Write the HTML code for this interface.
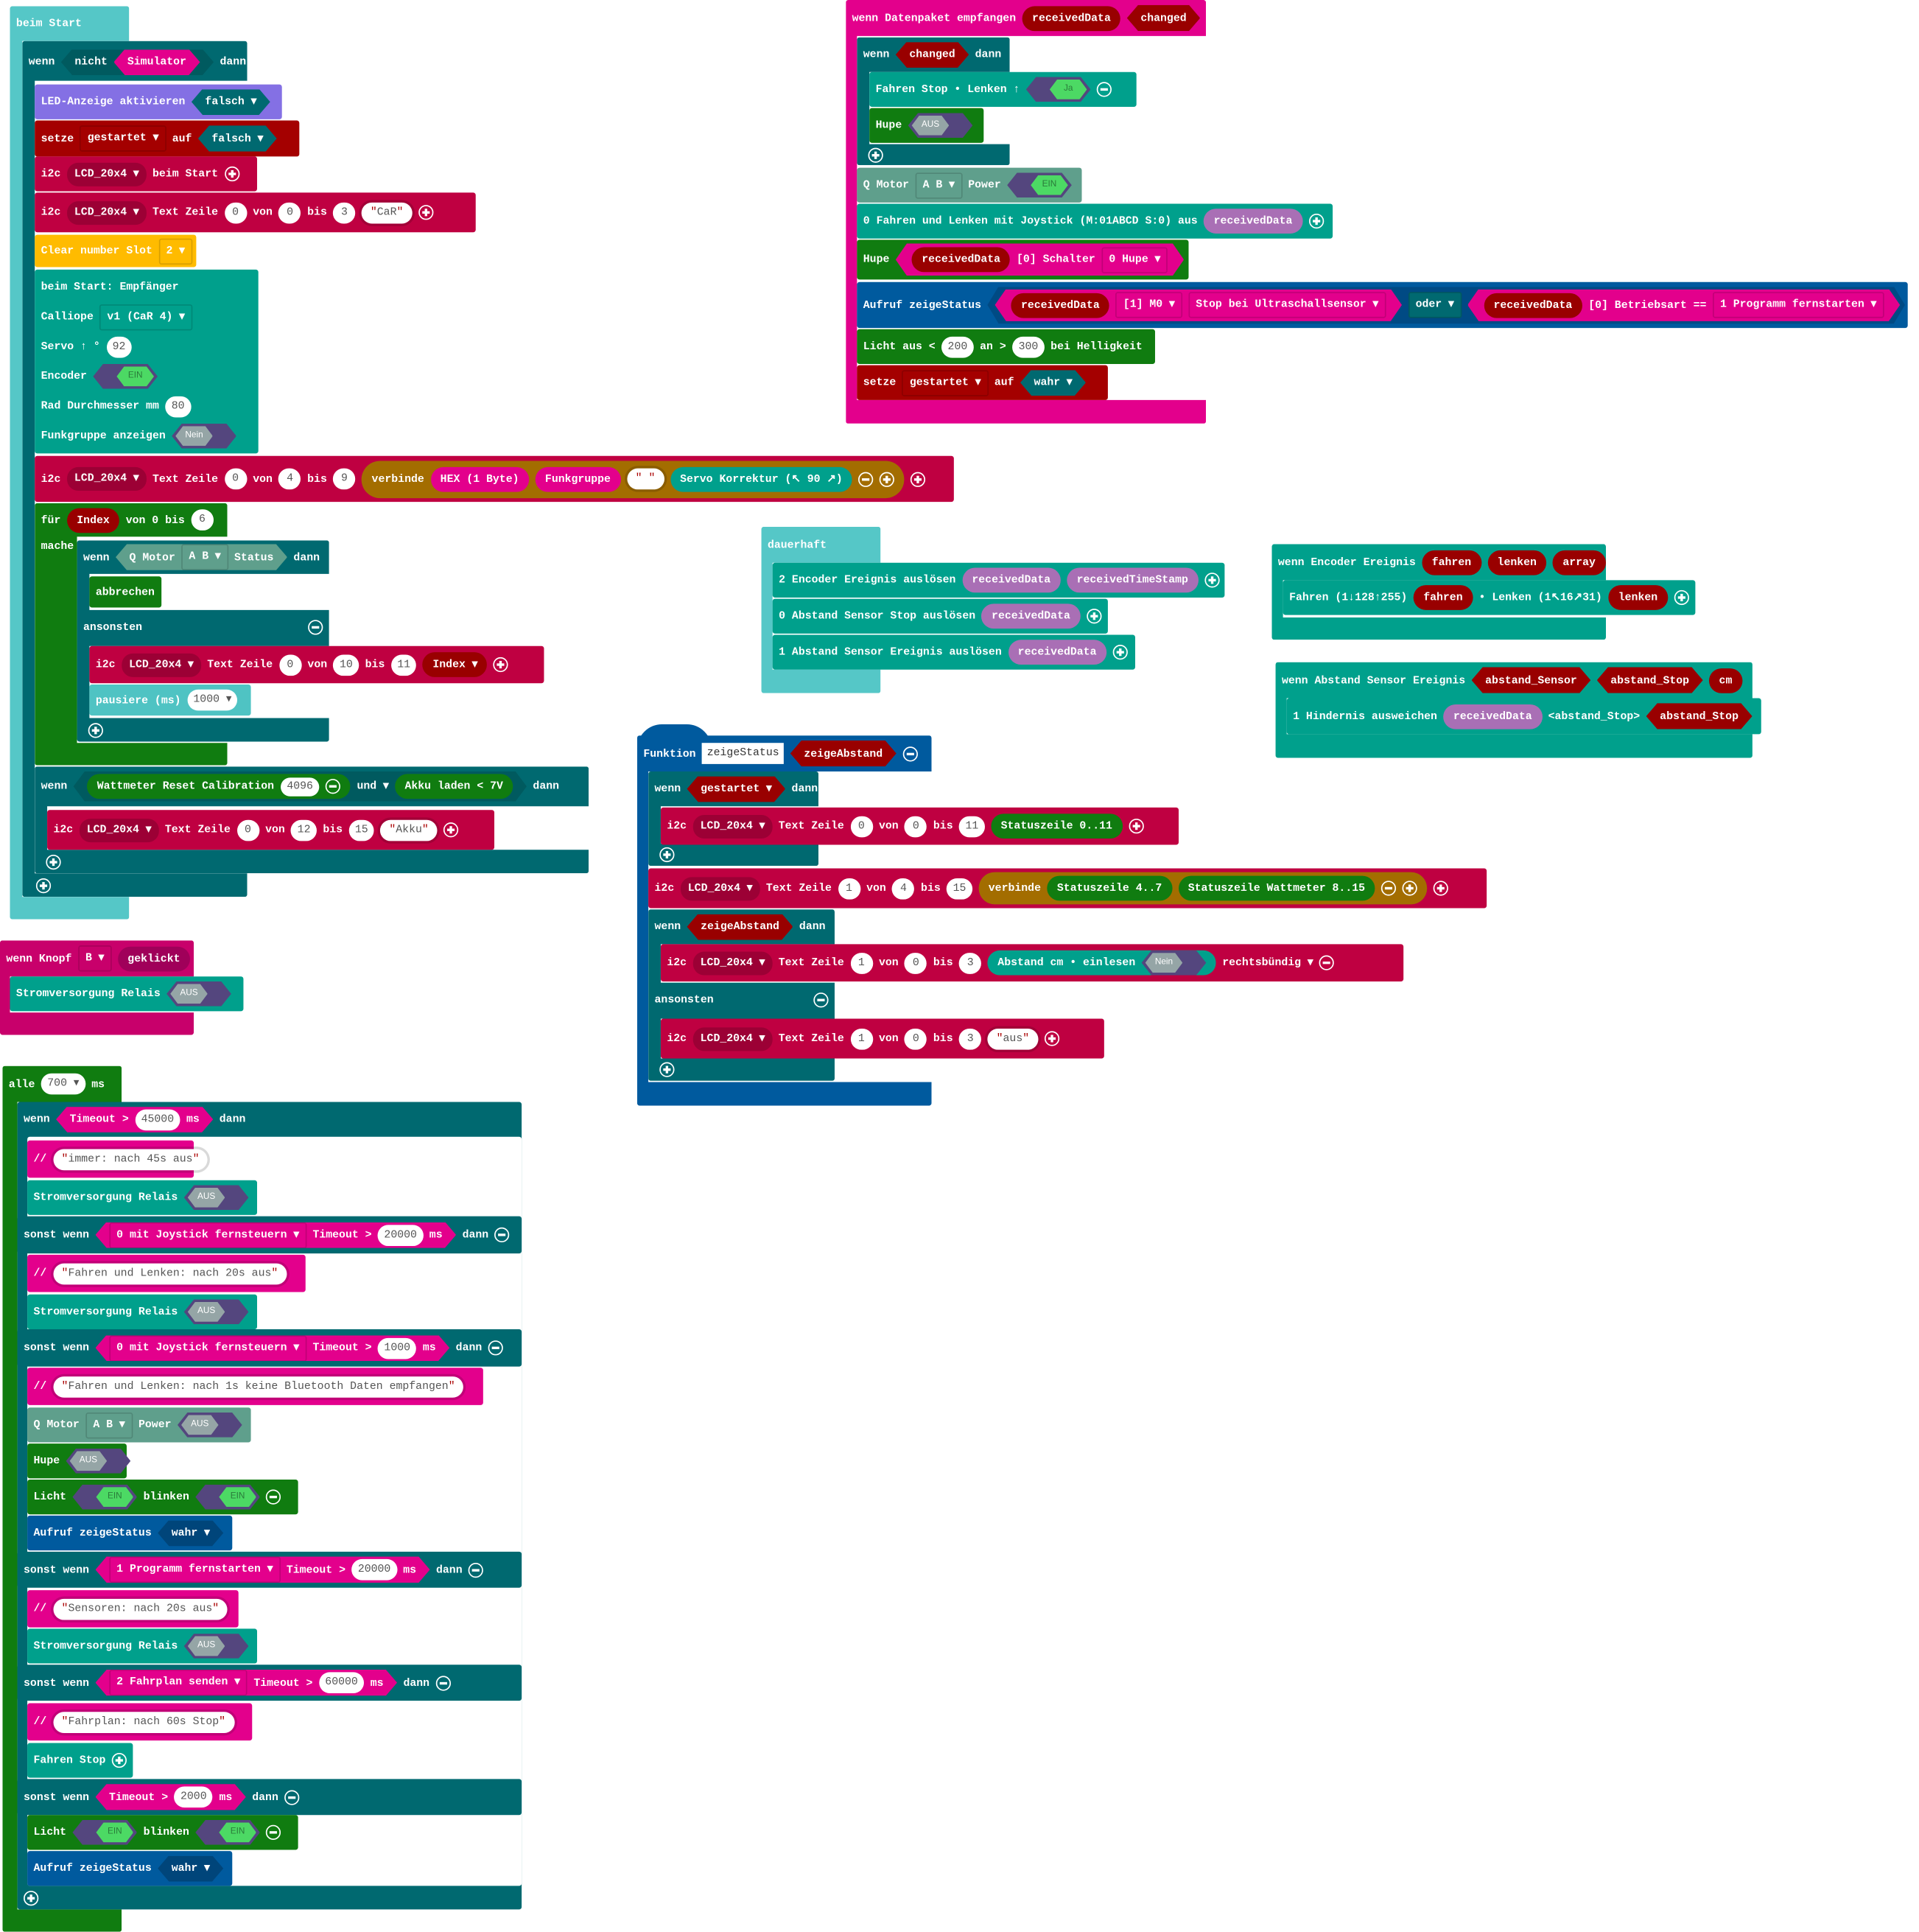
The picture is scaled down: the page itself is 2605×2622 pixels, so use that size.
<!DOCTYPE html>
<html><head><meta charset="utf-8"><style>
html,body{margin:0;padding:0;background:#fff;width:2605px;height:2586px;overflow:hidden}
#w{position:absolute;left:0;top:0;width:1545px;height:1534px;transform:scale(1.686);transform-origin:0 0}
.b{position:absolute;display:flex;align-items:center;gap:5px;padding:0 5px;box-sizing:border-box;color:#fff;font:bold 8.8px "Liberation Mono",monospace;white-space:nowrap;border-radius:2px}
.r{position:absolute;border-radius:2px}
.n{background:#fff;color:#555;border-radius:9px;padding:0 5px;min-width:8px;height:17px;line-height:17px;text-align:center;font-weight:normal}
.s{background:#fff;color:#555;border-radius:9px;padding:0 7px;height:17px;line-height:17px;font-weight:normal;box-shadow:0 0 0 2px rgba(0,0,0,.15)}
.s:before{content:'"';color:#a00}.s:after{content:'"';color:#a00}
.d{background:rgba(0,0,0,.18);border-radius:9px;padding:0 6px;height:19px;line-height:19px}
.dq{border:1px solid rgba(0,0,0,.15);border-radius:2px;padding:0 5px;height:19px;line-height:19px}
.hx{display:flex;align-items:center;gap:5px;height:21px;padding:0 11px;clip-path:polygon(9px 0,calc(100% - 9px) 0,100% 50%,calc(100% - 9px) 100%,9px 100%,0 50%)}
.pl{border-radius:10px;height:20px;line-height:20px;padding:0 8px}
.c{display:inline-block;width:10px;height:10px;border:1.5px solid #fff;border-radius:50%;position:relative;flex:none}
.c:before{content:"";position:absolute;left:2px;right:2px;top:4px;height:2px;background:#fff}
.c.p:after{content:"";position:absolute;top:2px;bottom:2px;left:4px;width:2px;background:#fff}
.tg{width:52px;height:20px;background:#54467e;clip-path:polygon(8px 0,44px 0,52px 50%,44px 100%,8px 100%,0 50%);position:relative;flex:none}
.tg i{position:absolute;top:2px;height:16px;width:30px;clip-path:polygon(6px 0,24px 0,30px 50%,24px 100%,6px 100%,0 50%);font:normal 7px "Liberation Sans",sans-serif;line-height:16px;text-align:center;font-style:normal}
.off i{left:3px;background:#95a5a6;color:#fff}
.on i{right:3px;background:#4cd964;color:#2a7a3a}
.lt{background:#55c7c7}.dt{background:#006970}.pu{background:#8470e4}.rd{background:#a40000}.cr{background:#bf0041}.ye{background:#ffbb00}
.tl{background:#00a08c}.gr{background:#107c10}.qm{background:#5f9f8c}.bl{background:#005a9e}.mg{background:#e3008c}.kn{background:#c8006b}
.vr{background:#990000}.vp{background:#a96fb5}.br{background:#a36d00}.pa{background:#4fc3c3}
</style></head><body><div id="w">

<!-- beim Start -->
<div class="r lt" style="left:8px;top:5px;width:96px;height:735px;clip-path:polygon(0 0,100% 0,100% 28px,10px 28px,10px 717px,100% 717px,100% 100%,0 100%)"></div>
<div class="b" style="left:8px;top:5px;height:28px">beim Start</div>
<div class="r dt" style="left:18px;top:33px;width:181px;height:689px;clip-path:polygon(0 0,100% 0,100% 32px,10px 32px,10px 670px,100% 670px,100% 100%,0 100%)"></div>
<div class="b" style="left:18px;top:35px;height:30px">wenn <span class="hx" style="background:#005a5f">nicht <span class="hx mg">Simulator</span></span> dann</div>
<div class="b" style="left:24px;top:703px;height:19px"><span class="c p"></span></div>

<div class="b pu" style="left:28px;top:68px;width:199px;height:28px">LED-Anzeige aktivieren <span class="hx dt">falsch ▾</span></div>
<div class="b rd" style="left:28px;top:97px;width:213px;height:29px">setze <span class="dq">gestartet ▾</span> auf <span class="hx dt">falsch ▾</span></div>
<div class="b cr" style="left:28px;top:126px;width:179px;height:28px">i2c <span class="d">LCD_20x4 ▾</span> beim Start <span class="c p"></span></div>
<div class="b cr" style="left:28px;top:155px;width:355px;height:32px">i2c <span class="d">LCD_20x4 ▾</span> Text Zeile <span class="n">0</span> von <span class="n">0</span> bis <span class="n">3</span> <span class="s">CaR</span> <span class="c p"></span></div>
<div class="b ye" style="left:28px;top:189px;width:130px;height:26px">Clear number Slot <span class="dq">2 ▾</span></div>
<div class="r tl" style="left:28px;top:217px;width:180px;height:148px"></div>
<div class="b" style="left:28px;top:219px;height:24px">beim Start: Empfänger</div>
<div class="b" style="left:28px;top:243px;height:24px">Calliope <span class="dq">v1 (CaR 4) ▾</span></div>
<div class="b" style="left:28px;top:267px;height:24px">Servo ↑ ° <span class="n">92</span></div>
<div class="b" style="left:28px;top:291px;height:24px">Encoder <span class="tg on"><i>EIN</i></span></div>
<div class="b" style="left:28px;top:315px;height:24px">Rad Durchmesser mm <span class="n">80</span></div>
<div class="b" style="left:28px;top:339px;height:24px">Funkgruppe anzeigen <span class="tg off"><i>Nein</i></span></div>
<div class="b cr" style="left:28px;top:367px;width:740px;height:37px">i2c <span class="d">LCD_20x4 ▾</span> Text Zeile <span class="n">0</span> von <span class="n">4</span> bis <span class="n">9</span> <span class="pl br" style="display:flex;align-items:center;gap:5px;height:30px;border-radius:15px">verbinde <span class="pl mg">HEX (1 Byte)</span><span class="pl mg">Funkgruppe</span> <span class="s"> </span> <span class="pl tl">Servo Korrektur (↖ 90 ↗)</span> <span class="c"></span><span class="c p"></span></span> <span class="c p"></span></div>

<div class="r gr" style="left:28px;top:405px;width:155px;height:211px;clip-path:polygon(0 0,100% 0,100% 27px,34px 27px,34px 193px,100% 193px,100% 100%,0 100%)"></div>
<div class="b" style="left:28px;top:405px;height:27px">für <span class="pl vr">Index</span> von 0 bis <span class="n">6</span></div>
<div class="b" style="left:28px;top:430px;height:20px">mache</div>
<div class="r dt" style="left:62px;top:435px;width:203px;height:162px;clip-path:polygon(0 0,100% 0,100% 27px,10px 27px,10px 56px,100% 56px,100% 85px,10px 85px,10px 143px,100% 143px,100% 100%,0 100%)"></div>
<div class="b" style="left:62px;top:435px;height:27px">wenn <span class="hx qm">Q Motor <span class="dq">A B ▾</span> Status</span> dann</div>
<div class="b gr" style="left:72px;top:464px;width:58px;height:25px">abbrechen</div>
<div class="b" style="left:62px;top:491px;width:203px;height:28px;justify-content:space-between">ansonsten <span class="c"></span></div>
<div class="b cr" style="left:72px;top:520px;width:366px;height:30px">i2c <span class="d">LCD_20x4 ▾</span> Text Zeile <span class="n">0</span> von <span class="n">10</span> bis <span class="n">11</span> <span class="pl vr">Index ▾</span> <span class="c p"></span></div>
<div class="b pa" style="left:72px;top:551px;width:130px;height:25px">pausiere (ms) <span class="n">1000 ▾</span></div>
<div class="b" style="left:66px;top:578px;height:19px"><span class="c p"></span></div>

<div class="r dt" style="left:28px;top:617px;width:446px;height:86px;clip-path:polygon(0 0,100% 0,100% 32px,10px 32px,10px 67px,100% 67px,100% 100%,0 100%)"></div>
<div class="b" style="left:28px;top:617px;height:32px">wenn <span class="hx" style="background:#005a5f;height:24px"><span class="pl gr">Wattmeter Reset Calibration <span class="n" style="display:inline-block;height:15px;line-height:15px">4096</span> <span class="c" style="vertical-align:middle"></span></span> und ▾ <span class="pl gr">Akku laden &lt; 7V</span></span> dann</div>
<div class="b cr" style="left:38px;top:652px;width:360px;height:32px">i2c <span class="d">LCD_20x4 ▾</span> Text Zeile <span class="n">0</span> von <span class="n">12</span> bis <span class="n">15</span> <span class="s">Akku</span> <span class="c p"></span></div>
<div class="b" style="left:32px;top:684px;height:19px"><span class="c p"></span></div>

<!-- Knopf -->
<div class="r kn" style="left:0;top:757px;width:156px;height:76px;clip-path:polygon(0 0,100% 0,100% 29px,8px 29px,8px 58px,100% 58px,100% 100%,0 100%)"></div>
<div class="b" style="left:0;top:757px;height:29px">wenn Knopf <span class="dq">B ▾</span> <span class="pl" style="background:#a0005a">geklickt</span></div>
<div class="b tl" style="left:8px;top:786px;width:188px;height:28px">Stromversorgung Relais <span class="tg off"><i>AUS</i></span></div>

<!-- alle 700 ms -->
<div class="r gr" style="left:2px;top:858px;width:96px;height:697px;clip-path:polygon(0 0,100% 0,100% 29px,12px 29px,12px 679px,100% 679px,100% 100%,0 100%)"></div>
<div class="b" style="left:2px;top:858px;height:29px">alle <span class="n">700 ▾</span> ms</div>
<div class="r dt" style="left:14px;top:887px;width:406px;height:650px"></div>
<div class="r" style="left:22px;top:915px;width:398px;height:603px;background:#fff"></div>
<div class="r dt" style="left:14px;top:979px;width:406px;height:30px"></div>
<div class="r dt" style="left:14px;top:1070px;width:406px;height:30px"></div>
<div class="r dt" style="left:14px;top:1249px;width:406px;height:29px"></div>
<div class="r dt" style="left:14px;top:1340px;width:406px;height:29px"></div>
<div class="r dt" style="left:14px;top:1432px;width:406px;height:29px"></div>
<div class="b" style="left:14px;top:887px;height:28px">wenn <span class="hx mg">Timeout &gt; <span class="n">45000</span> ms</span> dann</div>
<div class="b mg" style="left:22px;top:918px;width:134px;height:30px">// <span class="s">immer: nach 45s aus</span></div>
<div class="b tl" style="left:22px;top:950px;width:185px;height:28px">Stromversorgung Relais <span class="tg off"><i>AUS</i></span></div>
<div class="b" style="left:14px;top:979px;width:406px;height:30px">sonst wenn <span class="hx mg"><span class="dq">0 mit Joystick fernsteuern ▾</span> Timeout &gt; <span class="n">20000</span> ms</span> dann <span class="c"></span></div>
<div class="b mg" style="left:22px;top:1010px;width:224px;height:30px">// <span class="s">Fahren und Lenken: nach 20s aus</span></div>
<div class="b tl" style="left:22px;top:1042px;width:185px;height:28px">Stromversorgung Relais <span class="tg off"><i>AUS</i></span></div>
<div class="b" style="left:14px;top:1070px;width:406px;height:30px">sonst wenn <span class="hx mg"><span class="dq">0 mit Joystick fernsteuern ▾</span> Timeout &gt; <span class="n">1000</span> ms</span> dann <span class="c"></span></div>
<div class="b mg" style="left:22px;top:1101px;width:367px;height:30px">// <span class="s">Fahren und Lenken: nach 1s keine Bluetooth Daten empfangen</span></div>
<div class="b qm" style="left:22px;top:1133px;width:180px;height:28px">Q Motor <span class="dq">A B ▾</span> Power <span class="tg off"><i>AUS</i></span></div>
<div class="b gr" style="left:22px;top:1162px;width:80px;height:28px">Hupe <span class="tg off"><i>AUS</i></span></div>
<div class="b gr" style="left:22px;top:1191px;width:218px;height:28px">Licht <span class="tg on"><i>EIN</i></span> blinken <span class="tg on"><i>EIN</i></span> <span class="c"></span></div>
<div class="b bl" style="left:22px;top:1220px;width:165px;height:28px">Aufruf zeigeStatus <span class="hx" style="background:#00457a">wahr ▾</span></div>
<div class="b" style="left:14px;top:1249px;width:406px;height:29px">sonst wenn <span class="hx mg"><span class="dq">1 Programm fernstarten ▾</span> Timeout &gt; <span class="n">20000</span> ms</span> dann <span class="c"></span></div>
<div class="b mg" style="left:22px;top:1280px;width:170px;height:30px">// <span class="s">Sensoren: nach 20s aus</span></div>
<div class="b tl" style="left:22px;top:1311px;width:185px;height:28px">Stromversorgung Relais <span class="tg off"><i>AUS</i></span></div>
<div class="b" style="left:14px;top:1340px;width:406px;height:29px">sonst wenn <span class="hx mg"><span class="dq">2 Fahrplan senden ▾</span> Timeout &gt; <span class="n">60000</span> ms</span> dann <span class="c"></span></div>
<div class="b mg" style="left:22px;top:1371px;width:181px;height:30px">// <span class="s">Fahrplan: nach 60s Stop</span></div>
<div class="b tl" style="left:22px;top:1403px;width:85px;height:28px">Fahren Stop <span class="c p"></span></div>
<div class="b" style="left:14px;top:1432px;width:406px;height:29px">sonst wenn <span class="hx mg">Timeout &gt; <span class="n">2000</span> ms</span> dann <span class="c"></span></div>
<div class="b gr" style="left:22px;top:1461px;width:218px;height:28px">Licht <span class="tg on"><i>EIN</i></span> blinken <span class="tg on"><i>EIN</i></span> <span class="c"></span></div>
<div class="b bl" style="left:22px;top:1490px;width:165px;height:28px">Aufruf zeigeStatus <span class="hx" style="background:#00457a">wahr ▾</span></div>
<div class="b" style="left:14px;top:1518px;height:19px"><span class="c p"></span></div>

<!-- Datenpaket -->
<div class="r mg" style="left:681px;top:0;width:290px;height:341px;clip-path:polygon(0 0,100% 0,100% 29px,9px 29px,9px 322px,100% 322px,100% 100%,0 100%)"></div>
<div class="b" style="left:681px;top:0;height:29px">wenn Datenpaket empfangen <span class="pl vr">receivedData</span> <span class="hx vr">changed</span></div>
<div class="r dt" style="left:690px;top:30px;width:123px;height:103px;clip-path:polygon(0 0,100% 0,100% 28px,10px 28px,10px 86px,100% 86px,100% 100%,0 100%)"></div>
<div class="b" style="left:690px;top:30px;height:28px">wenn <span class="hx vr">changed</span> dann</div>
<div class="b tl" style="left:700px;top:58px;width:215px;height:28px">Fahren Stop • Lenken ↑ <span class="tg on"><i>Ja</i></span> <span class="c"></span></div>
<div class="b gr" style="left:700px;top:87px;width:92px;height:28px">Hupe <span class="tg off"><i>AUS</i></span></div>
<div class="b" style="left:694px;top:116px;height:17px"><span class="c p"></span></div>
<div class="b qm" style="left:690px;top:135px;width:181px;height:28px">Q Motor <span class="dq">A B ▾</span> Power <span class="tg on"><i>EIN</i></span></div>
<div class="b tl" style="left:690px;top:164px;width:383px;height:28px">0 Fahren und Lenken mit Joystick (M:01ABCD S:0) aus <span class="pl vp">receivedData</span> <span class="c p"></span></div>
<div class="b gr" style="left:690px;top:193px;width:267px;height:32px">Hupe <span class="hx mg" style="height:26px;padding:0 13px"><span class="pl vr">receivedData</span> [0] Schalter <span class="dq">0 Hupe ▾</span></span></div>
<div class="b bl" style="left:690px;top:227px;width:846px;height:37px">Aufruf zeigeStatus <span class="hx" style="background:#004a84;height:30px;padding:0 4px 0 6px"><span class="hx mg" style="height:26px;padding:0 13px"><span class="pl vr">receivedData</span> <span class="dq">[1] M0 ▾</span> <span class="dq">Stop bei Ultraschallsensor ▾</span></span> <span class="dq" style="background:#006970">oder ▾</span> <span class="hx mg" style="height:26px;padding:0 13px"><span class="pl vr">receivedData</span> [0] Betriebsart == <span class="dq">1 Programm fernstarten ▾</span></span></span></div>
<div class="b gr" style="left:690px;top:265px;width:240px;height:28px">Licht aus &lt; <span class="n">200</span> an &gt; <span class="n">300</span> bei Helligkeit</div>
<div class="b rd" style="left:690px;top:294px;width:202px;height:28px">setze <span class="dq">gestartet ▾</span> auf <span class="hx dt">wahr ▾</span></div>

<!-- dauerhaft -->
<div class="r lt" style="left:613px;top:424px;width:96px;height:134px;clip-path:polygon(0 0,100% 0,100% 29px,9px 29px,9px 115px,100% 115px,100% 100%,0 100%)"></div>
<div class="b" style="left:613px;top:424px;height:29px">dauerhaft</div>
<div class="b tl" style="left:622px;top:453px;width:364px;height:28px">2 Encoder Ereignis auslösen <span class="pl vp">receivedData</span><span class="pl vp">receivedTimeStamp</span> <span class="c p"></span></div>
<div class="b tl" style="left:622px;top:482px;width:270px;height:28px">0 Abstand Sensor Stop auslösen <span class="pl vp">receivedData</span> <span class="c p"></span></div>
<div class="b tl" style="left:622px;top:511px;width:292px;height:28px">1 Abstand Sensor Ereignis auslösen <span class="pl vp">receivedData</span> <span class="c p"></span></div>

<!-- Encoder -->
<div class="r tl" style="left:1024px;top:438px;width:269px;height:77px;clip-path:polygon(0 0,100% 0,100% 29px,9px 29px,9px 59px,100% 59px,100% 100%,0 100%)"></div>
<div class="b" style="left:1024px;top:438px;height:29px">wenn Encoder Ereignis <span class="pl vr">fahren</span><span class="pl vr">lenken</span><span class="pl vr">array</span></div>
<div class="b tl" style="left:1033px;top:467px;width:332px;height:28px">Fahren (1↓128↑255) <span class="pl vr">fahren</span> • Lenken (1↖16↗31) <span class="pl vr">lenken</span> <span class="c p"></span></div>

<!-- Abstand -->
<div class="r tl" style="left:1027px;top:533px;width:384px;height:77px;clip-path:polygon(0 0,100% 0,100% 29px,9px 29px,9px 58px,100% 58px,100% 100%,0 100%)"></div>
<div class="b" style="left:1027px;top:533px;height:29px">wenn Abstand Sensor Ereignis <span class="hx vr">abstand_Sensor</span> <span class="hx vr">abstand_Stop</span> <span class="pl vr">cm</span></div>
<div class="b tl" style="left:1036px;top:562px;width:382px;height:29px">1 Hindernis ausweichen <span class="pl vp">receivedData</span> &lt;abstand_Stop&gt; <span class="hx vr">abstand_Stop</span></div>

<!-- Funktion -->
<div class="r bl" style="left:513px;top:583px;width:60px;height:20px;border-radius:30px 30px 0 0"></div>
<div class="r bl" style="left:513px;top:592px;width:237px;height:298px;clip-path:polygon(0 0,100% 0,100% 29px,9px 29px,9px 279px,100% 279px,100% 100%,0 100%)"></div>
<div class="b" style="left:513px;top:592px;height:29px">Funktion <span style="background:#fff;color:#333;padding:0 4px;height:17px;line-height:17px;font-weight:normal">zeigeStatus</span> <span class="hx vr">zeigeAbstand</span> <span class="c"></span></div>
<div class="r dt" style="left:522px;top:621px;width:137px;height:76px;clip-path:polygon(0 0,100% 0,100% 28px,10px 28px,10px 58px,100% 58px,100% 100%,0 100%)"></div>
<div class="b" style="left:522px;top:621px;height:28px">wenn <span class="hx vr">gestartet ▾</span> dann</div>
<div class="b cr" style="left:532px;top:650px;width:417px;height:30px">i2c <span class="d">LCD_20x4 ▾</span> Text Zeile <span class="n">0</span> von <span class="n">0</span> bis <span class="n">11</span> <span class="pl gr">Statuszeile 0..11</span> <span class="c p"></span></div>
<div class="b" style="left:526px;top:679px;height:18px"><span class="c p"></span></div>
<div class="b cr" style="left:522px;top:699px;width:675px;height:32px">i2c <span class="d">LCD_20x4 ▾</span> Text Zeile <span class="n">1</span> von <span class="n">4</span> bis <span class="n">15</span> <span class="pl br" style="display:flex;align-items:center;gap:5px;height:26px;border-radius:13px">verbinde <span class="pl gr">Statuszeile 4..7</span> <span class="pl gr">Statuszeile Wattmeter 8..15</span> <span class="c"></span><span class="c p"></span></span> <span class="c p"></span></div>
<div class="r dt" style="left:522px;top:732px;width:150px;height:138px;clip-path:polygon(0 0,100% 0,100% 28px,10px 28px,10px 59px,100% 59px,100% 88px,10px 88px,10px 120px,100% 120px,100% 100%,0 100%)"></div>
<div class="b" style="left:522px;top:732px;height:28px">wenn <span class="hx vr">zeigeAbstand</span> dann</div>
<div class="b cr" style="left:532px;top:760px;width:598px;height:30px">i2c <span class="d">LCD_20x4 ▾</span> Text Zeile <span class="n">1</span> von <span class="n">0</span> bis <span class="n">3</span> <span class="pl tl" style="display:flex;align-items:center;gap:5px">Abstand cm • einlesen <span class="tg off"><i>Nein</i></span></span> rechtsbündig ▾ <span class="c"></span></div>
<div class="b" style="left:522px;top:791px;width:150px;height:28px;justify-content:space-between">ansonsten <span class="c"></span></div>
<div class="b cr" style="left:532px;top:820px;width:357px;height:32px">i2c <span class="d">LCD_20x4 ▾</span> Text Zeile <span class="n">1</span> von <span class="n">0</span> bis <span class="n">3</span> <span class="s">aus</span> <span class="c p"></span></div>
<div class="b" style="left:526px;top:852px;height:18px"><span class="c p"></span></div>

</div></body></html>
